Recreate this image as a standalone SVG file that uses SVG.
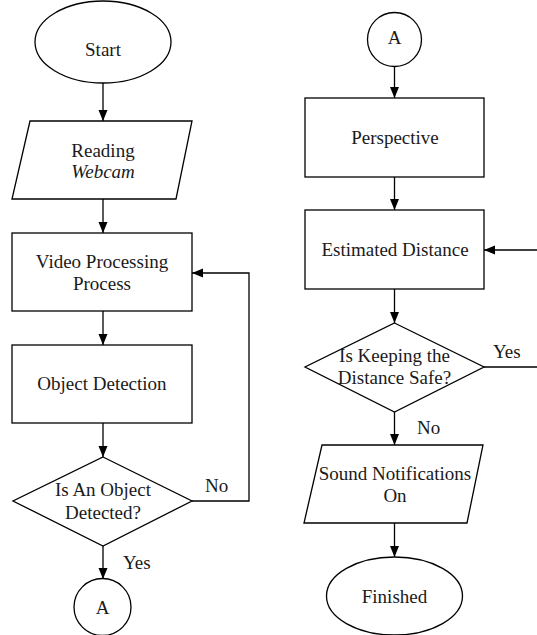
<svg xmlns="http://www.w3.org/2000/svg" width="537" height="635" viewBox="0 0 537 635">
<style>
.s{fill:#fff;stroke:#000;stroke-width:1.3}
.c{fill:none;stroke:#000;stroke-width:1.3}
text{font-family:'Liberation Serif',serif;font-size:19px;fill:#1a1a1a;text-anchor:middle}
.l{text-anchor:start}
</style>
<defs>
<marker id="ah" markerUnits="userSpaceOnUse" markerWidth="12" markerHeight="10" refX="11" refY="4.5" orient="auto">
<path d="M0,0 L11,4.5 L0,9 z" fill="#000"/>
</marker>
</defs>
<rect width="537" height="635" fill="#fff"/>
<g font-family="Liberation Serif, serif">
<g id="connectors">
<line class="c" x1="103" y1="83" x2="103" y2="121" marker-end="url(#ah)"/>
<line class="c" x1="103" y1="199" x2="103" y2="233" marker-end="url(#ah)"/>
<line class="c" x1="103" y1="311" x2="103" y2="345" marker-end="url(#ah)"/>
<line class="c" x1="103" y1="423" x2="103" y2="457" marker-end="url(#ah)"/>
<line class="c" x1="103" y1="546" x2="103" y2="579" marker-end="url(#ah)"/>
<path class="c" d="M192,501 H249 V273 H192" marker-end="url(#ah)"/>
<line class="c" x1="394.5" y1="66" x2="394.5" y2="98" marker-end="url(#ah)"/>
<line class="c" x1="394.5" y1="177" x2="394.5" y2="210" marker-end="url(#ah)"/>
<line class="c" x1="394.5" y1="289" x2="394.5" y2="323" marker-end="url(#ah)"/>
<line class="c" x1="394.5" y1="412" x2="394.5" y2="445" marker-end="url(#ah)"/>
<line class="c" x1="394.5" y1="523" x2="394.5" y2="557" marker-end="url(#ah)"/>
<path class="c" d="M484,367 H542 V250 H484" marker-end="url(#ah)"/>
<text class="l" x="205" y="492">No</text>
<text class="l" x="123" y="569">Yes</text>
<text class="l" x="493" y="358">Yes</text>
<text class="l" x="417" y="434">No</text>
</g>
<g id="start">
<ellipse class="s" cx="103" cy="42" rx="68" ry="41"/>
<text x="103" y="56">Start</text>
</g>
<g id="reading">
<polygon class="s" points="30,121 192,121 176,199 12,199"/>
<text x="103" y="157">Reading</text>
<text x="103" y="178" font-style="italic">Webcam</text>
</g>
<g id="video">
<rect class="s" x="12" y="233" width="180" height="78"/>
<text x="102" y="268">Video Processing</text>
<text x="102" y="290">Process</text>
</g>
<g id="detection">
<rect class="s" x="12" y="345" width="180" height="78"/>
<text x="102" y="390">Object Detection</text>
</g>
<g id="detected">
<polygon class="s" points="103,457 192,501 103,546 13,501"/>
<text x="103" y="496">Is An Object</text>
<text x="103" y="519">Detected?</text>
</g>
<g id="connA1">
<circle class="s" cx="102.5" cy="607" r="28.5"/>
<text x="102.5" y="614">A</text>
</g>
<g id="connA2">
<circle class="s" cx="394.5" cy="39.5" r="27"/>
<text x="394.5" y="44">A</text>
</g>
<g id="perspective">
<rect class="s" x="305" y="98" width="179" height="79"/>
<text x="395" y="144">Perspective</text>
</g>
<g id="estimated">
<rect class="s" x="305" y="210" width="179" height="79"/>
<text x="395" y="256">Estimated Distance</text>
</g>
<g id="safe">
<polygon class="s" points="394.5,323 484,367 394.5,412 305,367"/>
<text x="394.5" y="362">Is Keeping the</text>
<text x="394.5" y="384">Distance Safe?</text>
</g>
<g id="sound">
<polygon class="s" points="322,445 483,445 467,523 304,523"/>
<text x="395" y="480">Sound Notifications</text>
<text x="395" y="502">On</text>
</g>
<g id="finished">
<ellipse class="s" cx="394.5" cy="596" rx="68" ry="39"/>
<text x="394.5" y="603">Finished</text>
</g>
</g>
</svg>
